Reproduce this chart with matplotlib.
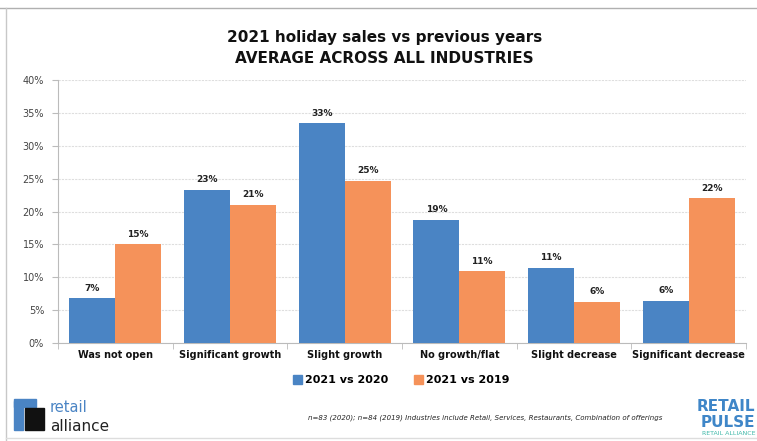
import matplotlib.pyplot as plt
import numpy as np
from matplotlib.ticker import PercentFormatter
from matplotlib.patches import Rectangle
from matplotlib.lines import Line2D

categories = ['Was not open', 'Significant growth', 'Slight growth',
              'No growth/flat', 'Slight decrease', 'Significant decrease']
vs_2020 = [6.8, 23.3, 33.4, 18.7, 11.4, 6.4]
vs_2019 = [15.0, 21.0, 24.7, 10.9, 6.3, 22.0]
labels_2020 = ['7%', '23%', '33%', '19%', '11%', '6%']
labels_2019 = ['15%', '21%', '25%', '11%', '6%', '22%']
series_names = ['2021 vs 2020', '2021 vs 2019']

blue = '#4a84c4'
orange = '#f5925a'

fig = plt.figure(figsize=(7.57, 4.41), dpi=100)
ax = fig.add_axes([0.0766, 0.2222, 0.9089, 0.5964])

x = np.arange(len(categories))
w = 0.4
b1 = ax.bar(x - w / 2, vs_2020, w, color=blue, zorder=3)
b2 = ax.bar(x + w / 2, vs_2019, w, color=orange, zorder=3)
ax.bar_label(b1, labels=labels_2020, padding=4, fontsize=6.5, fontweight='bold', color='#222222')
ax.bar_label(b2, labels=labels_2019, padding=4, fontsize=6.5, fontweight='bold', color='#222222')

ax.set_xlim(-0.5, len(categories) - 0.5)
ax.set_ylim(0, 40)
ax.set_yticks(np.arange(0, 41, 5))
ax.yaxis.set_major_formatter(PercentFormatter(decimals=0))
ax.set_xticks(x)
ax.set_xticklabels(categories, fontsize=7, fontweight='bold', color='#111111')
ax.set_xticks(np.arange(-0.5, len(categories), 1), minor=True)
ax.tick_params(axis='x', which='major', length=0, pad=5)
ax.tick_params(axis='x', which='minor', length=4, color='#bbbbbb')
ax.tick_params(axis='y', length=4, color='#bbbbbb', labelsize=7, labelcolor='#444444', pad=6)
ax.grid(axis='y', color='#dedede', linewidth=0.8, linestyle=(0, (2, 1)), zorder=0)
for s in ['top', 'right']:
    ax.spines[s].set_visible(False)
for s in ['left', 'bottom']:
    ax.spines[s].set_color('#bbbbbb')

fig.text(0.508, 0.915, '2021 holiday sales vs previous years', ha='center', va='center',
         fontsize=11, fontweight='bold', color='#111111')
fig.text(0.508, 0.867, 'AVERAGE ACROSS ALL INDUSTRIES', ha='center', va='center',
         fontsize=11, fontweight='bold', color='#111111')

# legend
ax.legend([Rectangle((0, 0), 1, 1, color=blue), Rectangle((0, 0), 1, 1, color=orange)],
          series_names, loc='center', bbox_to_anchor=(0.53, 0.138), bbox_transform=fig.transFigure,
          ncol=2, frameon=False, handlelength=0.8, handleheight=0.8, handletextpad=0.3,
          columnspacing=2.3, prop={'weight': 'bold', 'size': 8})

fig.text(0.641, 0.052, 'n=83 (2020); n=84 (2019) Industries include Retail, Services, Restaurants, Combination of offerings',
         ha='center', va='center', fontsize=5.0, style='italic', color='#222222')

# left logo
fig.patches.append(Rectangle((0.018, 0.025), 0.013, 0.065, transform=fig.transFigure, color=blue))
fig.patches.append(Rectangle((0.018, 0.078), 0.03, 0.018, transform=fig.transFigure, color=blue))
fig.patches.append(Rectangle((0.033, 0.025), 0.025, 0.05, transform=fig.transFigure, color='#111111'))
fig.text(0.066, 0.075, 'retail', fontsize=10.5, color=blue, va='center', ha='left')
fig.text(0.066, 0.032, 'alliance', fontsize=11, color='#222222', va='center', ha='left')

# right logo
fig.text(0.998, 0.078, 'RETAIL', fontsize=11, fontweight='bold', color='#3f86c8', ha='right', va='center')
fig.text(0.998, 0.043, 'PULSE', fontsize=11, fontweight='bold', color='#3f86c8', ha='right', va='center')
fig.text(0.998, 0.017, 'RETAIL ALLIANCE', fontsize=4.5, color='#3fb8a8', ha='right', va='center')

# slide frame
fig.add_artist(Line2D([0, 1], [0.982, 0.982], transform=fig.transFigure, color='#b0b0b0', lw=1))
fig.add_artist(Line2D([0.008, 0.008], [0, 0.982], transform=fig.transFigure, color='#c8c8c8', lw=1))
fig.add_artist(Line2D([0.008, 1], [0.006, 0.006], transform=fig.transFigure, color='#dddddd', lw=1))

fig.savefig('out.png', dpi=100)
